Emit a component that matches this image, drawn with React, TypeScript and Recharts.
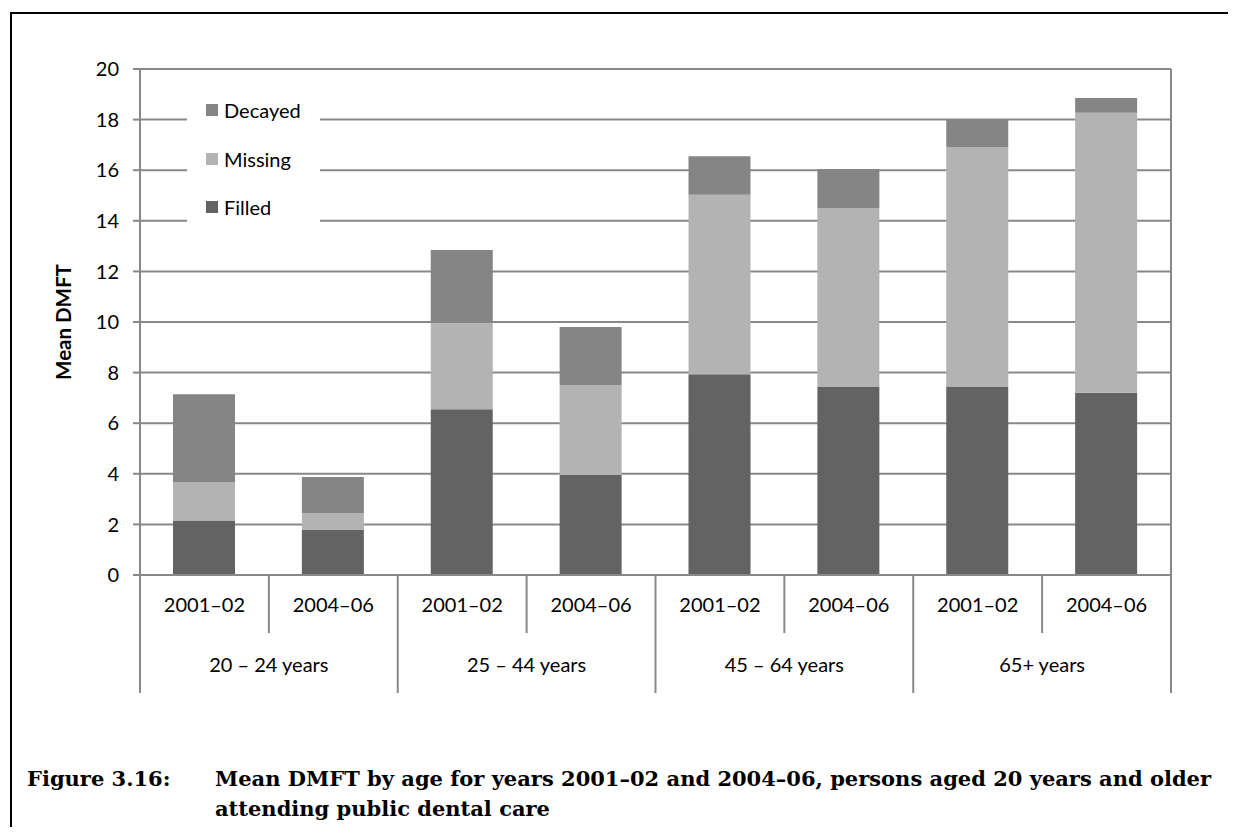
import React from "react";
import { BarChart, Bar, XAxis, YAxis, CartesianGrid } from "recharts";

const ageGroups = ["20 – 24 years", "25 – 44 years", "45 – 64 years", "65+ years"];
const periods = ["2001–02", "2004–06"];

// one value per bar, in order: group by group, 2001-02 then 2004-06
const filled = [2.15, 1.78, 6.55, 3.95, 7.93, 7.45, 7.45, 7.2];
const missing = [1.52, 0.67, 3.4, 3.55, 7.1, 7.05, 9.47, 11.07];
const decayed = [3.47, 1.42, 2.9, 2.3, 1.52, 1.55, 1.08, 0.58];

const yTicks = [0, 2, 4, 6, 8, 10, 12, 14, 16, 18, 20];
const legendOrder = ["Decayed", "Missing", "Filled"] as const;

const data = filled.map((f, i) => ({
  key: String(i),
  period: periods[i % 2],
  group: ageGroups[Math.floor(i / 2)],
  Filled: f,
  Missing: missing[i],
  Decayed: decayed[i],
}));

const AXIS = "#888888";
const FONT = "Lato, 'Noto Sans', sans-serif";
const colors = { Filled: "#636363", Missing: "#b3b3b3", Decayed: "#858585" };

const CategoryTick = (props: any) => {
  const { x, y, index, width, visibleTicksCount } = props;
  const half = width / visibleTicksCount / 2;
  const row = data[index];
  const isGroupEnd = index % 2 === 1;
  return (
    <g>
      <text x={x} y={y + 29} textAnchor="middle" fontSize={20} fontFamily={FONT} fill="#000">
        {row.period}
      </text>
      {index === 0 && (
        <line x1={x - half} x2={x - half} y1={y - 8} y2={y + 110} stroke={AXIS} strokeWidth={2} />
      )}
      <line
        x1={x + half}
        x2={x + half}
        y1={y - 8}
        y2={isGroupEnd ? y + 110 : y + 50}
        stroke={AXIS}
        strokeWidth={2}
      />
      {!isGroupEnd && (
        <text x={x + half} y={y + 89} textAnchor="middle" fontSize={20} fontFamily={FONT} fill="#000">
          {row.group}
        </text>
      )}
    </g>
  );
};

const LegendBox = () => (
  <div
    style={{
      position: "absolute",
      left: 187,
      top: 86,
      width: 133,
      height: 146,
      background: "#fff",
      boxSizing: "border-box",
    }}
  >
    {legendOrder.map((name) => (
      <div
        key={name}
        style={{ display: "flex", alignItems: "center", height: 48.5, paddingLeft: 19, fontFamily: FONT, fontSize: 20 }}
      >
        <span style={{ width: 12, height: 12, background: colors[name], marginRight: 6, display: "inline-block" }} />
        <span>{name}</span>
      </div>
    ))}
  </div>
);

const YLabel = (props: any) => {
  const { viewBox } = props;
  const cx = viewBox.x + 63;
  const cy = viewBox.y + viewBox.height / 2;
  return (
    <text
      x={cx}
      y={cy}
      transform={`rotate(-90 ${cx} ${cy})`}
      textAnchor="middle"
      dominantBaseline="central"
      fontSize={20.5}
      fontWeight="bold"
      fontFamily={FONT}
      fill="#000"
    >
      Mean DMFT
    </text>
  );
};

export default function App() {
  return (
    <div style={{ position: "relative", width: 1236, height: 835, margin: -8, overflow: "hidden", background: "#fff" }}>
      <div
        style={{
          position: "absolute",
          left: 10,
          top: 12,
          width: 1300,
          height: 900,
          border: "2px solid #000",
        }}
      />
      <div style={{ position: "absolute", left: 0, top: 0 }}>
        <BarChart
          width={1236}
          height={835}
          data={data}
          margin={{ top: 69, right: 0, left: 0, bottom: 140 }}
          barSize={62}
        >
          <CartesianGrid vertical={false} stroke={AXIS} strokeWidth={2} />
          <XAxis
            dataKey="key"
            height={120}
            axisLine={{ stroke: AXIS, strokeWidth: 2 }}
            tickLine={false}
            tick={<CategoryTick />}
            interval={0}
          />
          <YAxis
            domain={[0, 20]}
            ticks={yTicks}
            width={140}
            axisLine={{ stroke: AXIS, strokeWidth: 2 }}
            tickLine={{ stroke: AXIS, strokeWidth: 2 }}
            tickSize={7}
            tickMargin={14}
            tick={{ fontSize: 20, fontFamily: FONT, fill: "#000" }}
            label={<YLabel />}
          />
          <YAxis
            yAxisId="right"
            orientation="right"
            domain={[0, 20]}
            width={65}
            axisLine={{ stroke: AXIS, strokeWidth: 2 }}
            tick={false}
            tickLine={false}
          />
          <Bar dataKey="Filled" stackId="a" fill={colors.Filled} isAnimationActive={false} />
          <Bar dataKey="Missing" stackId="a" fill={colors.Missing} isAnimationActive={false} />
          <Bar dataKey="Decayed" stackId="a" fill={colors.Decayed} isAnimationActive={false} />
        </BarChart>
      </div>
      <LegendBox />
      <div
        style={{
          position: "absolute",
          left: 27,
          top: 764,
          fontFamily: "'DejaVu Serif', serif",
          fontWeight: "bold",
          fontSize: 21,
          lineHeight: "30px",
          display: "flex",
        }}
      >
        <div style={{ width: 188 }}>Figure 3.16:</div>
        <div>
          Mean DMFT by age for years 2001–02 and 2004–06, persons aged 20 years and older
          <br />
          attending public dental care
        </div>
      </div>
    </div>
  );
}
